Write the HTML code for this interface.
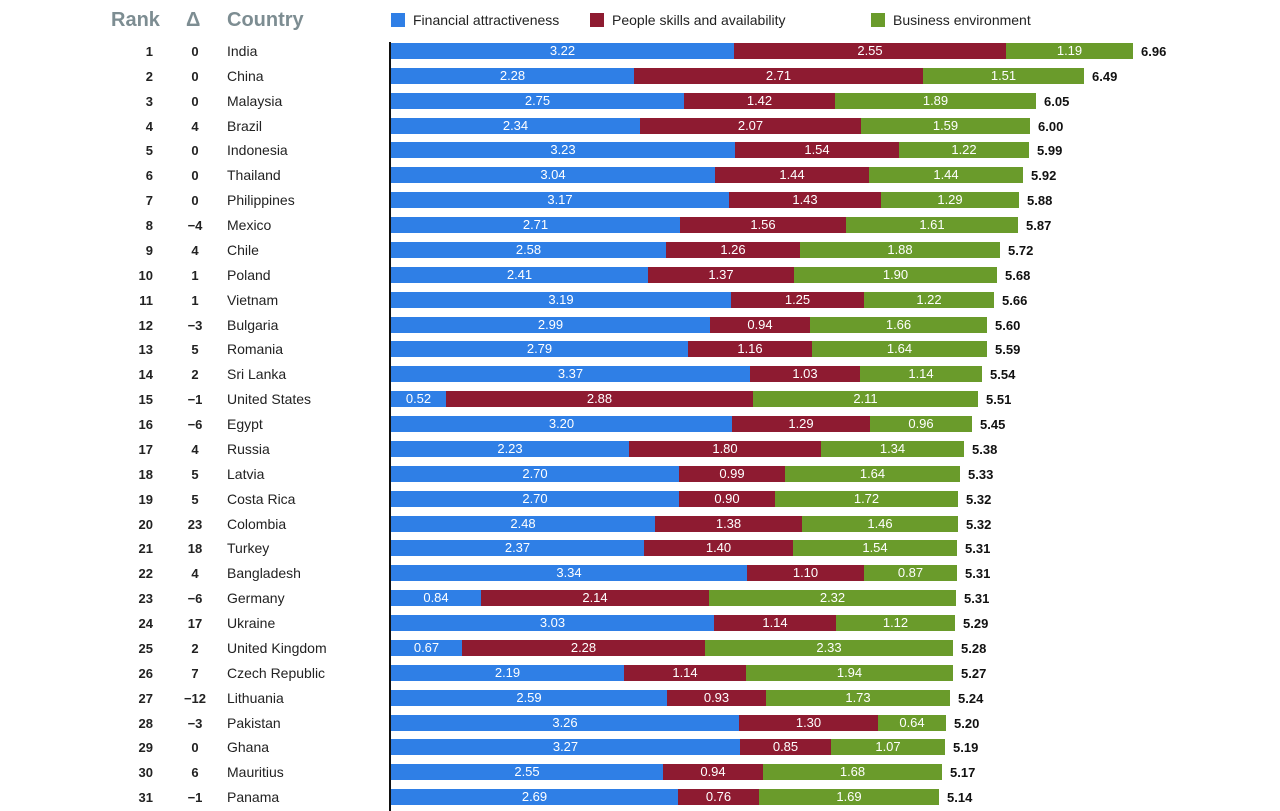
<!DOCTYPE html>
<html><head><style>
body{margin:0;width:1280px;height:811px;background:#fff;position:relative;overflow:hidden;font-family:"Liberation Sans",Arial,sans-serif}
.h{position:absolute;top:9px;font-size:20px;font-weight:bold;color:#7d8d92}
.lg{position:absolute;top:12px;font-size:14px;color:#222;display:flex;align-items:center}
.lg i{display:inline-block;width:14px;height:14px;margin-right:8px}
.ax{position:absolute;left:389px;top:42px;width:2px;height:769px;background:#111}
.r{position:absolute;left:0;height:24px;width:1280px;display:flex;align-items:center;font-size:14px;color:#222}
.r b{position:absolute;right:1127px;font-size:13px}
.r i{position:absolute;left:180px;width:30px;text-align:center;font-style:normal;font-size:13px;font-weight:bold}
.r u{position:absolute;left:227px;text-decoration:none}
.r p{position:absolute;left:391px;margin:0;display:flex;align-items:center;height:16px}
.r s{text-decoration:none;height:16px;line-height:16px;background:#2f7fe6;color:#fff;text-align:center;font-size:13px;display:block}
.r s.p{background:#8e1b31}.r s.g{background:#6a9b2b}
.r em{font-style:normal;font-weight:bold;font-size:13px;color:#111;margin-left:8px}
</style></head><body>
<div class="h" style="left:111px">Rank</div>
<div class="h" style="left:186px">Δ</div>
<div class="h" style="left:227px">Country</div>
<div class="lg" style="left:391px"><i style="background:#2f7fe6"></i>Financial attractiveness</div>
<div class="lg" style="left:590px"><i style="background:#8e1b31"></i>People skills and availability</div>
<div class="lg" style="left:871px"><i style="background:#6a9b2b"></i>Business environment</div>
<div class="ax"></div>
<div class="r" style="top:39px"><b>1</b><i>0</i><u>India</u><p><s style="width:343px">3.22</s><s class="p" style="width:272px">2.55</s><s class="g" style="width:127px">1.19</s><em>6.96</em></p></div>
<div class="r" style="top:64px"><b>2</b><i>0</i><u>China</u><p><s style="width:243px">2.28</s><s class="p" style="width:289px">2.71</s><s class="g" style="width:161px">1.51</s><em>6.49</em></p></div>
<div class="r" style="top:89px"><b>3</b><i>0</i><u>Malaysia</u><p><s style="width:293px">2.75</s><s class="p" style="width:151px">1.42</s><s class="g" style="width:201px">1.89</s><em>6.05</em></p></div>
<div class="r" style="top:114px"><b>4</b><i>4</i><u>Brazil</u><p><s style="width:249px">2.34</s><s class="p" style="width:221px">2.07</s><s class="g" style="width:169px">1.59</s><em>6.00</em></p></div>
<div class="r" style="top:138px"><b>5</b><i>0</i><u>Indonesia</u><p><s style="width:344px">3.23</s><s class="p" style="width:164px">1.54</s><s class="g" style="width:130px">1.22</s><em>5.99</em></p></div>
<div class="r" style="top:163px"><b>6</b><i>0</i><u>Thailand</u><p><s style="width:324px">3.04</s><s class="p" style="width:154px">1.44</s><s class="g" style="width:154px">1.44</s><em>5.92</em></p></div>
<div class="r" style="top:188px"><b>7</b><i>0</i><u>Philippines</u><p><s style="width:338px">3.17</s><s class="p" style="width:152px">1.43</s><s class="g" style="width:138px">1.29</s><em>5.88</em></p></div>
<div class="r" style="top:213px"><b>8</b><i>−4</i><u>Mexico</u><p><s style="width:289px">2.71</s><s class="p" style="width:166px">1.56</s><s class="g" style="width:172px">1.61</s><em>5.87</em></p></div>
<div class="r" style="top:238px"><b>9</b><i>4</i><u>Chile</u><p><s style="width:275px">2.58</s><s class="p" style="width:134px">1.26</s><s class="g" style="width:200px">1.88</s><em>5.72</em></p></div>
<div class="r" style="top:263px"><b>10</b><i>1</i><u>Poland</u><p><s style="width:257px">2.41</s><s class="p" style="width:146px">1.37</s><s class="g" style="width:203px">1.90</s><em>5.68</em></p></div>
<div class="r" style="top:288px"><b>11</b><i>1</i><u>Vietnam</u><p><s style="width:340px">3.19</s><s class="p" style="width:133px">1.25</s><s class="g" style="width:130px">1.22</s><em>5.66</em></p></div>
<div class="r" style="top:313px"><b>12</b><i>−3</i><u>Bulgaria</u><p><s style="width:319px">2.99</s><s class="p" style="width:100px">0.94</s><s class="g" style="width:177px">1.66</s><em>5.60</em></p></div>
<div class="r" style="top:337px"><b>13</b><i>5</i><u>Romania</u><p><s style="width:297px">2.79</s><s class="p" style="width:124px">1.16</s><s class="g" style="width:175px">1.64</s><em>5.59</em></p></div>
<div class="r" style="top:362px"><b>14</b><i>2</i><u>Sri Lanka</u><p><s style="width:359px">3.37</s><s class="p" style="width:110px">1.03</s><s class="g" style="width:122px">1.14</s><em>5.54</em></p></div>
<div class="r" style="top:387px"><b>15</b><i>−1</i><u>United States</u><p><s style="width:55px">0.52</s><s class="p" style="width:307px">2.88</s><s class="g" style="width:225px">2.11</s><em>5.51</em></p></div>
<div class="r" style="top:412px"><b>16</b><i>−6</i><u>Egypt</u><p><s style="width:341px">3.20</s><s class="p" style="width:138px">1.29</s><s class="g" style="width:102px">0.96</s><em>5.45</em></p></div>
<div class="r" style="top:437px"><b>17</b><i>4</i><u>Russia</u><p><s style="width:238px">2.23</s><s class="p" style="width:192px">1.80</s><s class="g" style="width:143px">1.34</s><em>5.38</em></p></div>
<div class="r" style="top:462px"><b>18</b><i>5</i><u>Latvia</u><p><s style="width:288px">2.70</s><s class="p" style="width:106px">0.99</s><s class="g" style="width:175px">1.64</s><em>5.33</em></p></div>
<div class="r" style="top:487px"><b>19</b><i>5</i><u>Costa Rica</u><p><s style="width:288px">2.70</s><s class="p" style="width:96px">0.90</s><s class="g" style="width:183px">1.72</s><em>5.32</em></p></div>
<div class="r" style="top:512px"><b>20</b><i>23</i><u>Colombia</u><p><s style="width:264px">2.48</s><s class="p" style="width:147px">1.38</s><s class="g" style="width:156px">1.46</s><em>5.32</em></p></div>
<div class="r" style="top:536px"><b>21</b><i>18</i><u>Turkey</u><p><s style="width:253px">2.37</s><s class="p" style="width:149px">1.40</s><s class="g" style="width:164px">1.54</s><em>5.31</em></p></div>
<div class="r" style="top:561px"><b>22</b><i>4</i><u>Bangladesh</u><p><s style="width:356px">3.34</s><s class="p" style="width:117px">1.10</s><s class="g" style="width:93px">0.87</s><em>5.31</em></p></div>
<div class="r" style="top:586px"><b>23</b><i>−6</i><u>Germany</u><p><s style="width:90px">0.84</s><s class="p" style="width:228px">2.14</s><s class="g" style="width:247px">2.32</s><em>5.31</em></p></div>
<div class="r" style="top:611px"><b>24</b><i>17</i><u>Ukraine</u><p><s style="width:323px">3.03</s><s class="p" style="width:122px">1.14</s><s class="g" style="width:119px">1.12</s><em>5.29</em></p></div>
<div class="r" style="top:636px"><b>25</b><i>2</i><u>United Kingdom</u><p><s style="width:71px">0.67</s><s class="p" style="width:243px">2.28</s><s class="g" style="width:248px">2.33</s><em>5.28</em></p></div>
<div class="r" style="top:661px"><b>26</b><i>7</i><u>Czech Republic</u><p><s style="width:233px">2.19</s><s class="p" style="width:122px">1.14</s><s class="g" style="width:207px">1.94</s><em>5.27</em></p></div>
<div class="r" style="top:686px"><b>27</b><i>−12</i><u>Lithuania</u><p><s style="width:276px">2.59</s><s class="p" style="width:99px">0.93</s><s class="g" style="width:184px">1.73</s><em>5.24</em></p></div>
<div class="r" style="top:711px"><b>28</b><i>−3</i><u>Pakistan</u><p><s style="width:348px">3.26</s><s class="p" style="width:139px">1.30</s><s class="g" style="width:68px">0.64</s><em>5.20</em></p></div>
<div class="r" style="top:735px"><b>29</b><i>0</i><u>Ghana</u><p><s style="width:349px">3.27</s><s class="p" style="width:91px">0.85</s><s class="g" style="width:114px">1.07</s><em>5.19</em></p></div>
<div class="r" style="top:760px"><b>30</b><i>6</i><u>Mauritius</u><p><s style="width:272px">2.55</s><s class="p" style="width:100px">0.94</s><s class="g" style="width:179px">1.68</s><em>5.17</em></p></div>
<div class="r" style="top:785px"><b>31</b><i>−1</i><u>Panama</u><p><s style="width:287px">2.69</s><s class="p" style="width:81px">0.76</s><s class="g" style="width:180px">1.69</s><em>5.14</em></p></div>
</body></html>
